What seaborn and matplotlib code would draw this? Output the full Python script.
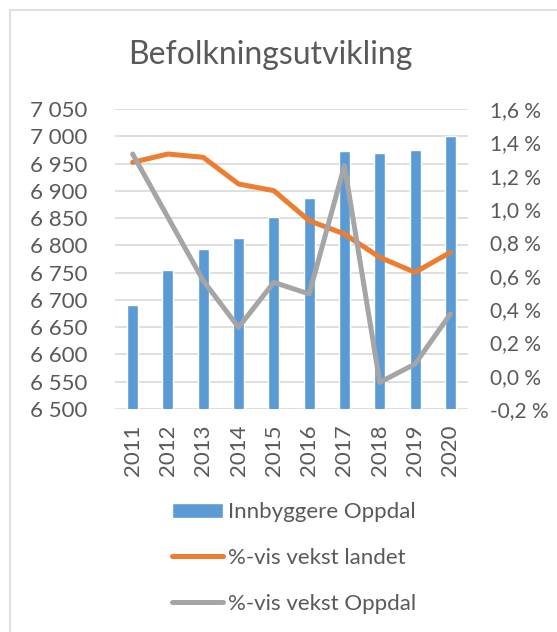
import numpy as np
import pandas as pd
import matplotlib.pyplot as plt
import seaborn as sns
from matplotlib.patches import Rectangle
from matplotlib.ticker import FuncFormatter

years = ['2011', '2012', '2013', '2014', '2015', '2016', '2017', '2018', '2019', '2020']
innbyggere = [6691, 6755, 6793, 6814, 6852, 6886, 6973, 6970, 6975, 7001]
vekst_landet = [1.28, 1.33, 1.31, 1.15, 1.11, 0.93, 0.85, 0.71, 0.62, 0.74]
vekst_oppdal = [1.33, 0.95, 0.57, 0.29, 0.56, 0.49, 1.26, -0.04, 0.07, 0.37]

blue = '#5B9BD5'
orange = '#ED7D31'
grey = '#A5A5A5'
txt = '#595959'

sns.set_style('white')
plt.rcParams['font.family'] = ['Lato', 'DejaVu Sans']

df = pd.DataFrame({'år': years, 'innb': innbyggere,
                   'landet': vekst_landet, 'oppdal': vekst_oppdal})

fig = plt.figure(figsize=(5.57, 6.32), dpi=100)
ax = fig.add_axes([115 / 557, 1 - 409 / 632, 353 / 557, 300 / 632])

# chart border (left/top visible, runs off the image on the right and bottom)
fig.patches.append(Rectangle((10 / 557, -0.1), 1.2, 1 - 10 / 632 + 0.1,
                             transform=fig.transFigure, fill=False,
                             edgecolor='#D9D9D9', lw=1.2))

sns.barplot(data=df, x='år', y='innb', color=blue, width=0.31,
            saturation=1, ax=ax, label='Innbyggere Oppdal', zorder=2)
ax.set_ylim(6500, 7050)
ax.set_yticks(np.arange(6500, 7051, 50))
ax.yaxis.set_major_formatter(FuncFormatter(lambda v, p: f'{int(v):,}'.replace(',', ' ')))
ax.grid(axis='y', color='#D9D9D9', lw=1.2, zorder=0)
ax.set_axisbelow(True)
ax.set_xlim(-0.5, 9.5)
ax.set_xlabel('')
ax.set_ylabel('')
ax.tick_params(axis='y', length=0, pad=20, labelsize=16, labelcolor=txt)
ax.tick_params(axis='x', length=0, pad=11, labelsize=16, labelcolor=txt, labelrotation=90)
for s in ax.spines.values():
    s.set_visible(False)

ax2 = ax.twinx()
sns.lineplot(x=np.arange(len(years)), y=df['landet'], color=orange, lw=3.6,
             ax=ax2, label='%-vis vekst landet', solid_capstyle='round')
sns.lineplot(x=np.arange(len(years)), y=df['oppdal'], color=grey, lw=3.6,
             ax=ax2, label='%-vis vekst Oppdal', solid_capstyle='round')
ax2.set_ylim(-0.2, 1.6)
ax2.set_yticks(np.arange(-0.2, 1.61, 0.2))
ax2.yaxis.set_major_formatter(FuncFormatter(lambda v, p: f'{v:.1f} %'.replace('.', ',')))
ax2.tick_params(axis='y', length=0, pad=16, labelsize=15, labelcolor=txt)
ax2.set_ylabel('')
ax2.set_xlim(-0.5, 9.5)
for s in ax2.spines.values():
    s.set_visible(False)
ax2.get_legend().remove()

fig.text(270 / 557, 1 - 55 / 632, 'Befolkningsutvikling', ha='center', va='center',
         fontsize=23, color=txt)

h1, l1 = ax.get_legend_handles_labels()
h2, l2 = ax2.get_legend_handles_labels()
if ax.get_legend():
    ax.get_legend().remove()
leg = fig.legend(h1 + h2, l1 + l2, loc='center left',
                 bbox_to_anchor=(152 / 557, 1 - 558 / 632), frameon=False,
                 fontsize=16, labelcolor=txt, handlelength=2.3,
                 handletextpad=0.2, labelspacing=1.15)

fig.savefig('out.png', dpi=100)
